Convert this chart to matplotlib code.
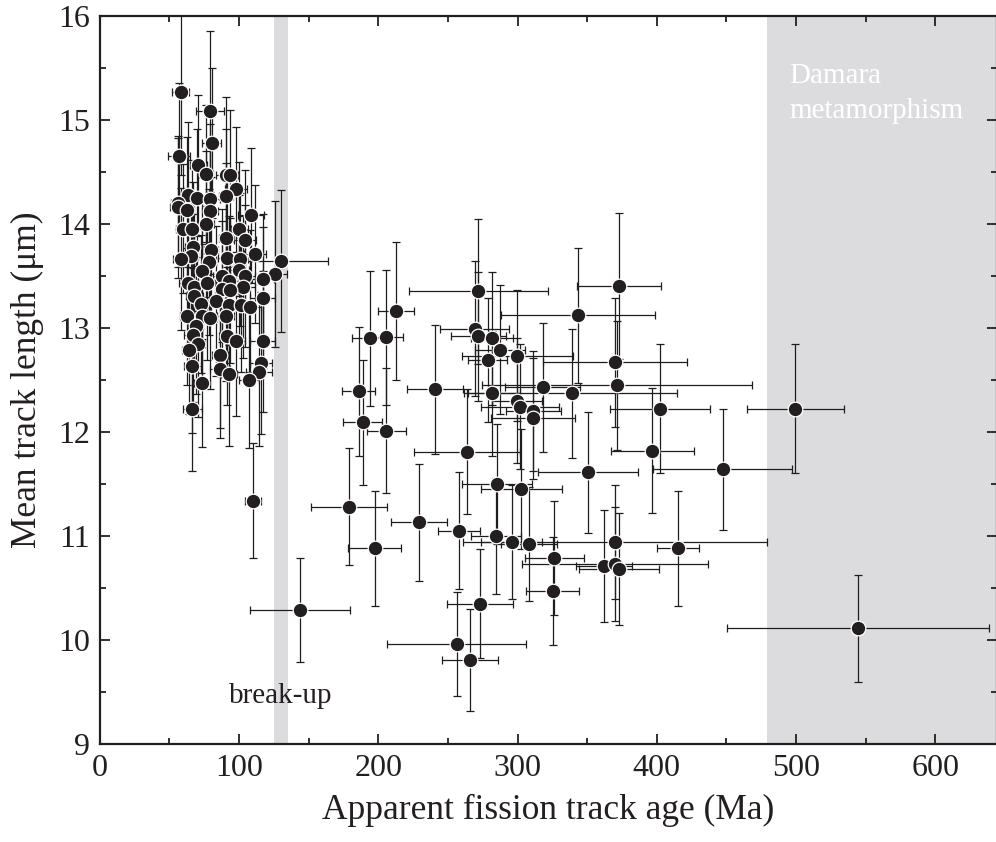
import matplotlib
matplotlib.use("Agg")
import matplotlib.pyplot as plt
from matplotlib.ticker import MultipleLocator

plt.rcParams["font.family"] = ["Liberation Serif", "DejaVu Serif"]
plt.rcParams["mathtext.fontset"] = "stix"

# Apparent fission-track ages (Ma), mean track lengths (um) and 1-sigma errors
age = [58.2, 79.0, 80.5, 57.0, 70.9, 76.6, 90.7, 93.6, 97.7, 63.7,
       69.7, 79.3, 90.7, 56.0, 56.5, 62.5, 79.3, 108.7, 76.4, 59.6,
       66.3, 100.3, 90.7, 104.6, 67.3, 80.2, 111.6, 65.4, 58.7, 91.7,
       100.8, 78.8, 130.2, 73.5, 100.3, 125.7, 87.6, 104.4, 117.3, 63.2,
       68.0, 76.9, 93.1, 103.2, 87.6, 93.6, 68.0, 83.3, 117.1, 72.8,
       93.1, 101.5, 108.0, 62.5, 73.5, 79.3, 90.5, 69.2, 66.8, 70.9,
       91.7, 97.7, 117.1, 64.2, 86.4, 66.6, 86.4, 92.9, 115.9, 114.4,
       107.3, 73.5, 66.6, 110.1,
       143.9, 212.5, 194.3, 205.6, 186.0, 188.9, 205.6, 240.8, 263.5, 271.9,
       269.2, 271.9, 281.7, 287.2, 278.8, 299.9, 281.7, 299.4, 301.5, 311.4,
       311.0, 372.9, 343.4, 370.0, 371.4, 318.0, 339.3, 402.3, 396.8, 447.3,
       350.4, 499.4, 544.4, 179.0, 197.5, 229.5, 257.8, 285.5, 284.3, 295.8,
       273.1, 256.3, 265.9, 302.7, 308.3, 326.4, 325.3, 370.0, 361.9, 370.0,
       372.9, 415.0]

length = [15.27, 15.08, 14.78, 14.65, 14.56, 14.48, 14.47, 14.47, 14.33, 14.28,
          14.25, 14.24, 14.27, 14.20, 14.16, 14.13, 14.12, 14.08, 14.00, 13.95,
          13.95, 13.95, 13.86, 13.84, 13.78, 13.75, 13.71, 13.69, 13.66, 13.67,
          13.66, 13.63, 13.64, 13.55, 13.56, 13.52, 13.50, 13.50, 13.47, 13.43,
          13.39, 13.43, 13.45, 13.39, 13.37, 13.36, 13.31, 13.26, 13.29, 13.23,
          13.22, 13.22, 13.20, 13.11, 13.11, 13.09, 13.11, 13.02, 12.93, 12.84,
          12.92, 12.87, 12.87, 12.79, 12.74, 12.63, 12.60, 12.56, 12.66, 12.58,
          12.50, 12.47, 12.22, 11.34,
          10.29, 13.16, 12.90, 12.91, 12.39, 12.09, 12.01, 12.41, 11.81, 13.35,
          12.99, 12.92, 12.90, 12.79, 12.69, 12.73, 12.37, 12.30, 12.24, 12.20,
          12.13, 13.40, 13.12, 12.67, 12.45, 12.43, 12.37, 12.22, 11.82, 11.64,
          11.61, 12.22, 10.11, 11.28, 10.88, 11.13, 11.05, 11.50, 11.00, 10.94,
          10.35, 9.96, 9.81, 11.45, 10.92, 10.79, 10.47, 10.94, 10.71, 10.73,
          10.68, 10.88]

age_err = [6, 10, 7, 8, 6, 5, 7, 6, 8, 5,
           6, 7, 5, 5, 6, 5, 6, 9, 6, 5,
           7, 6, 5, 8, 6, 5, 8, 5, 6, 7,
           6, 5, 34, 6, 7, 9, 6, 7, 8, 6,
           5, 6, 7, 8, 5, 6, 6, 7, 9, 5,
           6, 7, 8, 5, 6, 5, 6, 5, 6, 5,
           6, 7, 9, 5, 6, 6, 7, 6, 8, 9,
           7, 6, 7, 6,
           36, 13, 13, 12, 12, 14, 14, 20, 38, 50,
           25, 20, 15, 18, 14, 40, 20, 18, 28, 20,
           30, 30, 55, 52, 97, 27, 75, 36, 30, 50,
           36, 35, 94, 27, 19, 20, 15, 25, 18, 22,
           24, 50, 20, 29, 20, 21, 19, 109, 20, 67,
           29, 15]

length_err = [0.80, 0.77, 0.72, 0.70, 0.68, 0.66, 0.75, 0.62, 0.60, 0.70,
              0.66, 0.72, 0.64, 0.62, 0.68, 0.70, 0.66, 0.65, 0.70, 0.62,
              0.66, 0.64, 0.72, 0.68, 0.62, 0.70, 0.66, 0.60, 0.68, 0.74,
              0.64, 0.70, 0.68, 0.66, 0.72, 0.70, 0.64, 0.68, 0.62, 0.66,
              0.70, 0.74, 0.62, 0.68, 0.66, 0.70, 0.64, 0.72, 0.68, 0.66,
              0.70, 0.64, 0.74, 0.66, 0.70, 0.68, 0.62, 0.66, 0.64, 0.70,
              0.66, 0.72, 0.68, 0.62, 0.70, 0.64, 0.66, 0.70, 0.68, 0.72,
              0.66, 0.62, 0.60, 0.55,
              0.50, 0.66, 0.65, 0.65, 0.62, 0.60, 0.60, 0.62, 0.60, 0.70,
              0.65, 0.62, 0.64, 0.62, 0.60, 0.63, 0.60, 0.60, 0.60, 0.58,
              0.58, 0.70, 0.65, 0.62, 0.62, 0.62, 0.62, 0.62, 0.60, 0.58,
              0.58, 0.62, 0.51, 0.56, 0.55, 0.56, 0.56, 0.58, 0.56, 0.55,
              0.52, 0.50, 0.49, 0.58, 0.55, 0.55, 0.52, 0.55, 0.54, 0.55,
              0.54, 0.55]

breakup_span = (125, 135)
damara_span = (479, 700)

fig = plt.figure(figsize=(9.96, 8.42), dpi=100)
ax = fig.add_axes([0.1, 0.1164, 0.901, 0.865])

shade = "#dcdcde"
ax.axvspan(*breakup_span, color=shade, lw=0, zorder=0)
ax.axvspan(*damara_span, color=shade, lw=0, zorder=0)

ax.errorbar(age, length, xerr=age_err, yerr=length_err, fmt="none",
            ecolor="#1e1e1e", elinewidth=0.9, capsize=3.2, capthick=0.9,
            zorder=2)
ax.plot(age, length, ls="none", marker="o", ms=10.5, mfc="#231f20",
        mec="white", mew=0.9, zorder=3)

ax.text(130, 9.39, "break-up", ha="center", va="baseline", fontsize=21,
        color="#231f20")
ax.text(495, 15.35, "Damara", ha="left", va="baseline", fontsize=21,
        color="white")
ax.text(495, 15.02, "metamorphism", ha="left", va="baseline", fontsize=21,
        color="white")

ax.set_xlim(0, 644.2)
ax.set_ylim(9, 16)
ax.xaxis.set_major_locator(MultipleLocator(100))
ax.xaxis.set_minor_locator(MultipleLocator(50))
ax.yaxis.set_major_locator(MultipleLocator(1))
ax.yaxis.set_minor_locator(MultipleLocator(0.5))
ax.tick_params(which="both", direction="in", top=True, right=True,
               width=1.3, colors="#231f20", labelsize=23)
ax.tick_params(which="major", length=7.5, pad=7)
ax.tick_params(which="minor", length=4.5)
for s in ax.spines.values():
    s.set_linewidth(1.6)
    s.set_color("#231f20")

ax.set_xlabel("Apparent fission track age (Ma)", fontsize=25.5, labelpad=8,
              color="#231f20")
ax.set_ylabel("Mean track length (\u03bcm)", fontsize=25.5, labelpad=10,
              color="#231f20")

fig.savefig("out.png", dpi=100)
